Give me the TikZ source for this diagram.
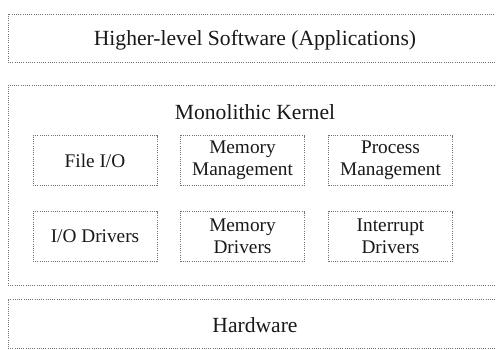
\documentclass[tikz,border=0pt]{standalone}
\usepackage{fontspec}
\setmainfont{Liberation Serif}
\begin{document}
\begin{tikzpicture}[x=1pt,y=-1pt,
  dotbox/.style={draw=black!55, line width=0.8pt, dash pattern=on 1pt off 1.2pt, inner sep=0pt},
  biglabel/.style={font=\fontsize{21.6}{24}\selectfont, text=black!90},
  smallbox/.style={dotbox, minimum width=124pt, minimum height=50pt, align=center,
    font=\fontsize{19.3}{22}\selectfont, text=black!90}]
\useasboundingbox (0,0) rectangle (496,349);
\clip (0,0) rectangle (496,349);
\fill[white] (0,0) rectangle (496,349);
\node[dotbox, minimum width=492pt, minimum height=48pt] (apps) at (254,38) {};
\node[biglabel] (appslbl) at (255,40) {Higher-level Software (Applications)};
\node[dotbox, minimum width=492pt, minimum height=200pt] (kernel) at (254,185) {};
\node[biglabel] (kernlbl) at (255,112) {Monolithic Kernel};
\node[smallbox] (fileio) at (95,160.5) {File I/O};
\node[smallbox] (memman) at (242.5,160.5) {Memory\\Management};
\node[smallbox] (procman) at (390.5,160.5) {Process\\Management};
\node[smallbox] (iodrv) at (95,236.5) {I/O Drivers};
\node[smallbox] (memdrv) at (242.5,236.5) {Memory\\Drivers};
\node[smallbox] (intdrv) at (390.5,236.5) {Interrupt\\Drivers};
\node[dotbox, minimum width=492pt, minimum height=49pt] (hw) at (254,323.5) {};
\node[biglabel] (hwlbl) at (255,325) {Hardware};
\end{tikzpicture}
\end{document}
